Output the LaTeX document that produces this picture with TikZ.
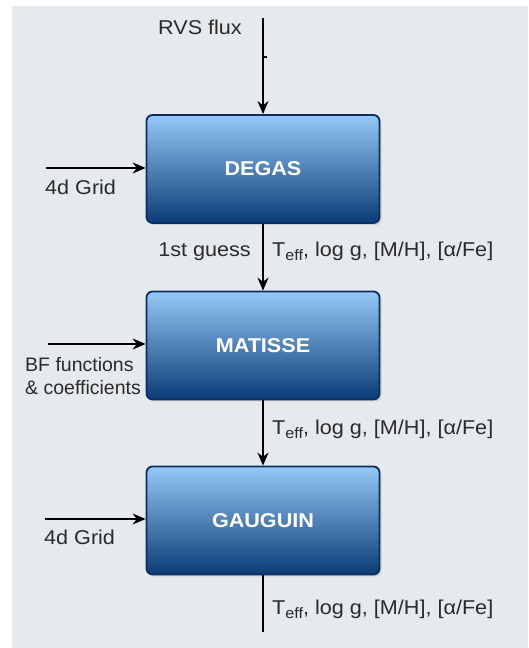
\documentclass[tikz,border=0pt]{standalone}
\usepackage{fontspec}
\setmainfont[FakeStretch=1.08]{Liberation Sans}
\newfontfamily\narrowsans{Liberation Sans}
\usetikzlibrary{arrows.meta,shadows}
\definecolor{bg}{HTML}{E7EAED}
\definecolor{boxtop}{HTML}{95C8F6}
\definecolor{boxmid}{HTML}{3F7CBC}
\definecolor{boxbot}{HTML}{0B3B76}
\definecolor{boxedge}{HTML}{0A2F5E}
\definecolor{txt}{HTML}{2A2A2A}
\newcommand{\teffline}{T\raisebox{-0.35ex}{\fontsize{15}{15}\selectfont eff}, log g, [M/H], [α/Fe]}
\tikzset{
  procbox/.style={draw=boxedge, line width=1.8pt, rounded corners=6pt,
    top color=boxtop, middle color=boxmid, bottom color=boxbot,
    minimum width=233pt, minimum height=108pt, inner sep=0pt,
    text=white, font=\bfseries\fontsize{20}{24}\selectfont,
    drop shadow={opacity=0.25, shadow xshift=2pt, shadow yshift=-2pt}},
  lbl/.style={text=txt, font=\fontsize{20}{24}\selectfont, inner sep=0pt},
  nlbl/.style={text=txt, font=\narrowsans\fontsize{19.5}{23}\selectfont, inner sep=0pt},
  flow/.style={draw=black, line width=1.4pt, -{Stealth[length=13pt,width=11pt]}},
  plain/.style={draw=black, line width=1.4pt}
}
\begin{document}
\begin{tikzpicture}[x=1pt,y=1pt]
\fill[white] (0,0) rectangle (528,648);
\fill[bg] (12,0) rectangle (528,642);
\useasboundingbox (0,0) rectangle (528,648);

% boxes
\node[procbox] (degas) at (263,479) {DEGAS};
\node[procbox] (matisse) at (263,302.5) {MATISSE};
\node[procbox] (gauguin) at (263,127.5) {GAUGUIN};

% free ends
\coordinate (top) at (263,630);
\coordinate (bot) at (263,16);
\coordinate (in1) at (46,480);
\coordinate (in2) at (48,304);
\coordinate (in3) at (45,129);

% vertical flow
\draw[flow] (top) -- (degas.north);
\draw[plain] (263,591) -- (267,591);
\draw[flow] (degas.south) -- (matisse.north);
\draw[flow] (matisse.south) -- (gauguin.north);
\draw[plain] (gauguin.south) -- (bot);

% left inputs
\draw[flow] (in1) -- (in1 -| degas.west);
\draw[flow] (in2) -- (in2 -| matisse.west);
\draw[flow] (in3) -- (in3 -| gauguin.west);

% labels
\node[lbl, anchor=base] (rvs) at (200,613) {RVS flux};
\node[lbl, anchor=base west] (grid1) at (45,453) {4d Grid};
\node[lbl, anchor=base east] (guess) at (251,391) {1st guess};
\node[lbl, anchor=base west] (t1) at (272,391) {\teffline};
\node[nlbl, anchor=base west] (bf1) at (25,276) {BF functions};
\node[nlbl, anchor=base west] (bf2) at (25,253) {\& coefficients};
\node[lbl, anchor=base west] (t2) at (272,213) {\teffline};
\node[lbl, anchor=base west] (grid3) at (44,103) {4d Grid};
\node[lbl, anchor=base west] (t3) at (272,33) {\teffline};
\end{tikzpicture}
\end{document}
